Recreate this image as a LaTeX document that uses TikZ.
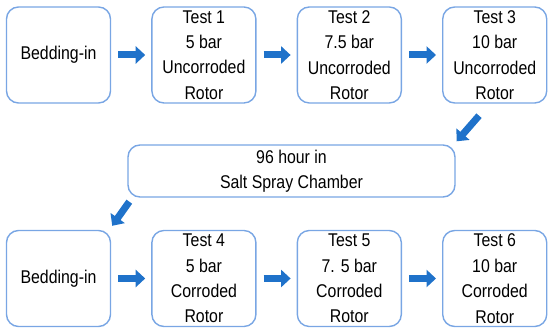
\documentclass[tikz,border=0pt]{standalone}
\usepackage{fontspec}
\newfontfamily\boxfont{Liberation Sans}[FakeStretch=0.86]
\usepackage{tikz}
\usetikzlibrary{arrows.meta,positioning}
\usepackage{xcolor}
\definecolor{edgeBlue}{HTML}{79A6E4}
\definecolor{arrowBlue}{HTML}{1F72CA}

\begin{document}
\begin{tikzpicture}[node distance=0.8cm,
    stepbox/.style={draw=edgeBlue, line width=0.8pt, rounded corners=0.24cm, fill=white, minimum width=2.08cm, minimum height=1.92cm, inner sep=1pt, align=center, font=\boxfont\fontsize{10.5}{14.5}\selectfont},
    flowarrow/.style={-{Triangle[width=0.34cm,length=0.19cm]}, line width=0.14cm, arrowBlue}]
    \useasboundingbox (0,0) rectangle (11,-6.68);
    % first row, uncorroded rotor
    \node[stepbox] (bed1) at (1.17,-1.1) {Bedding-in};
    \node[stepbox, right=of bed1] (t1) {Test 1\\5 bar\\Uncorroded\\Rotor};
    \node[stepbox, right=of t1] (t2) {Test 2\\7.5 bar\\Uncorroded\\Rotor};
    \node[stepbox, right=of t2] (t3) {Test 3\\10 bar\\Uncorroded\\Rotor};
    % salt spray
    \node[stepbox, minimum width=6.54cm, minimum height=1.04cm] (salt) at (5.83,-3.42) {96 hour in\\Salt Spray Chamber};
    % second row, corroded rotor
    \node[stepbox] (bed2) at (1.17,-5.57) {Bedding-in};
    \node[stepbox, right=of bed2] (t4) {Test 4\\5 bar\\Corroded\\Rotor};
    \node[stepbox, right=of t4] (t5) {Test 5\\7. 5 bar\\Corroded\\Rotor};
    \node[stepbox, right=of t5] (t6) {Test 6\\10 bar\\Corroded\\Rotor};
    \draw[flowarrow, shorten <=0.14cm, shorten >=0.12cm] (bed1) -- (t1);
    \draw[flowarrow, shorten <=0.14cm, shorten >=0.12cm] (t1) -- (t2);
    \draw[flowarrow, shorten <=0.14cm, shorten >=0.12cm] (t2) -- (t3);
    \draw[flowarrow] ([shift={(0.74,-0.24)}]t3.south west) -- ([shift={(0.02,0.06)}]salt.north east);
    \draw[flowarrow] ([shift={(0.04,-0.08)}]salt.south west) -- ([shift={(0.02,0.08)}]bed2.north east);
    \draw[flowarrow, shorten <=0.14cm, shorten >=0.12cm] (bed2) -- (t4);
    \draw[flowarrow, shorten <=0.14cm, shorten >=0.12cm] (t4) -- (t5);
    \draw[flowarrow, shorten <=0.14cm, shorten >=0.12cm] (t5) -- (t6);
  \end{tikzpicture}
\end{document}
